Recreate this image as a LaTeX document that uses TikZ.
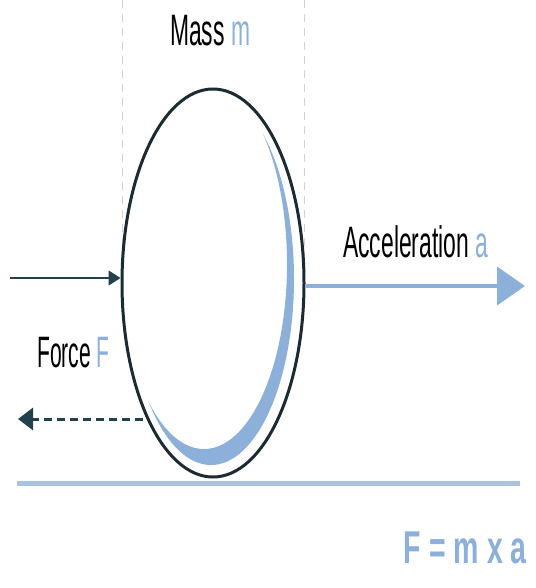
\documentclass[tikz,border=0pt]{standalone}
\usepackage{fontspec}
\setmainfont{Liberation Sans}
\usetikzlibrary{arrows.meta,shapes.geometric}

\definecolor{massblue}{HTML}{8CB0DA}
\definecolor{groundblue}{HTML}{A9C3DF}
\definecolor{slate}{HTML}{24404C}
\definecolor{rim}{HTML}{1C2B31}

\begin{document}
\begin{tikzpicture}[x=0.5pt,y=-0.5pt,
  lbl/.style={inner sep=0pt,anchor=base west,xscale=0.52,font=\fontsize{22}{26}\selectfont},
  guide/.style={gray!35,line width=0.5pt,dash pattern=on 4pt off 3pt}]
\useasboundingbox (0,0) rectangle (535,588);

% Guides
\coordinate (gl top) at (122,0);
\coordinate (gl bot) at (122,283);
\coordinate (gr top) at (304,0);
\coordinate (gr bot) at (304,283);
\draw[guide] (gl top) -- (gl bot);
\draw[guide] (gr top) -- (gr bot);

% Shading of the mass
\begin{scope}
  \clip (211,279) ellipse [x radius=83, y radius=186];
  \fill[massblue,even odd rule] (100,60) rectangle (320,500)
    (204,264) ellipse [x radius=83, y radius=185];
\end{scope}

% Mass
\node[ellipse,draw=rim,line width=1.5pt,minimum width=91pt,minimum height=194pt,inner sep=0pt] (mass) at (213,283) {};

% Ground
\coordinate (g0) at (17,483);
\coordinate (g1) at (520,483);
\draw[groundblue,line width=2.5pt] (g0) -- (g1);

% Push
\coordinate (push) at (10,278);
\draw[slate,line width=0.8pt,-{Triangle[length=6pt,width=7.5pt]}] (push) -- (push -| mass.west);

% Acceleration
\coordinate (acc) at (525,286);
\draw[massblue,line width=2.2pt,-{Triangle[length=14pt,width=19pt]}] (mass.east |- acc) -- (acc);

% Force
\coordinate (f0) at (143,419);
\coordinate (f1) at (18,419);
\draw[slate,line width=1.5pt,dash pattern=on 4pt off 2.5pt,-{Triangle[length=7.5pt,width=11pt]}] (f0) -- (f1);

% Labels
\node[lbl] (lmass) at (170,46) {Mass \textcolor{massblue}{m}};
\node[lbl] (lacc) at (343,257) {Acceleration \textcolor{massblue}{a}};
\node[lbl,xscale=0.92] (lforce) at (37,367) {Force \textcolor{massblue}{F}};
\node[inner sep=0pt,anchor=base east,xscale=0.62,text=massblue,font=\fontsize{23}{26}\selectfont\bfseries] (law) at (527,563) {F = m x a};

\end{tikzpicture}
\end{document}
